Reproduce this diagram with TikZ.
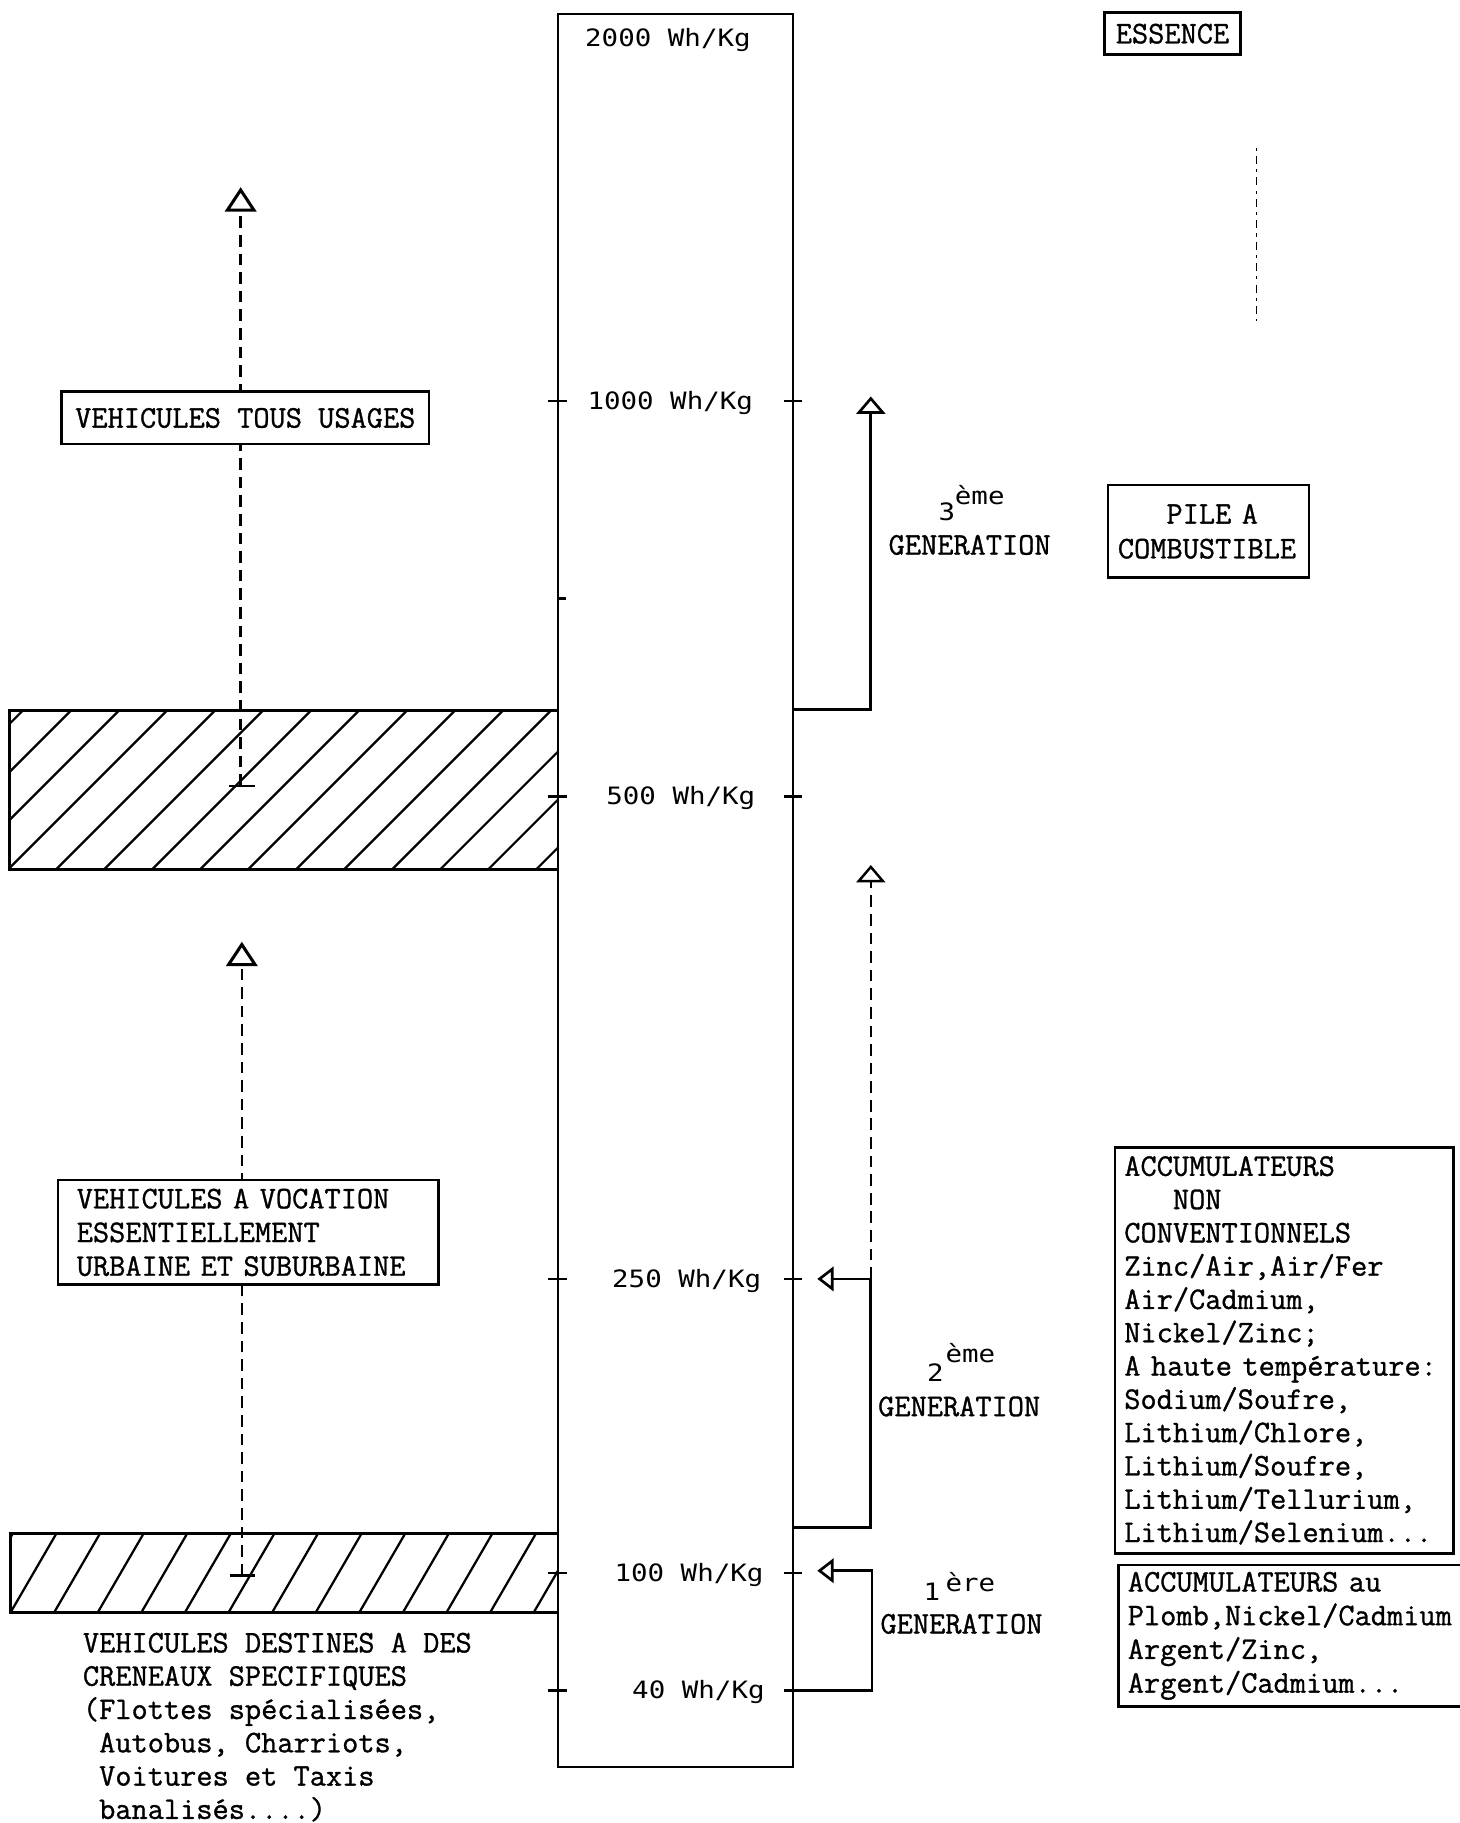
\documentclass[tikz,border=0pt]{standalone}
\usepackage{fontspec}
\newfontfamily\tw[FakeBold=1]{Latin Modern Mono}
\newfontfamily\gw[FakeStretch=1.15]{DejaVu Sans Mono}
\usetikzlibrary{arrows.meta}
\begin{document}
\begin{tikzpicture}[x=0.02cm,y=-0.02cm,
  frm/.style={line width=1.3pt},
  hatchl/.style={line width=1.1pt},
  dsh/.style={line width=1.2pt, dash pattern=on 0.2cm off 0.12cm},
  box/.style={draw, line width=1.3pt, fill=white, inner sep=0pt},
  tt/.style={font=\tw\fontsize{15.4}{16.3}\selectfont, inner sep=0pt},
  gt/.style={font=\gw\fontsize{11.7}{14}\selectfont, inner sep=0pt},
  upbig/.style={-{Triangle[open, length=0.42cm, width=0.54cm, line width=1.5pt]}},
  upsmall/.style={-{Triangle[open, length=0.3cm, width=0.5cm]}},
  leftarr/.style={-{Triangle[open, length=0.28cm, width=0.42cm]}},
  tickm/.style={line width=1.3pt}]
\path[use as bounding box, fill=white] (0,0) rectangle (1255,1568);

% hatched bands
\begin{scope}
  \clip (8,611) rectangle (480,748);
  \foreach \i in {-5,...,12} \draw[hatchl] ({48+41.3*\i},748) -- ++(160,-160);
\end{scope}
\draw[frm] (480,611) -- (8,611) -- (8,748) -- (480,748);
\begin{scope}
  \clip (9,1319) rectangle (480,1387);
  \foreach \i in {-3,...,13} \draw[hatchl] ({9+37.5*\i},1387) -- ++(59.25,-102);
\end{scope}
\draw[frm] (480,1319) -- (9,1319) -- (9,1387) -- (480,1387);

% scale
\node[draw, frm, minimum width=4.04cm, minimum height=30.16cm, inner sep=0pt] (scale) at (581,766) {};
\foreach \yy in {345,685,1100,1353,1454} {
  \draw[tickm] (471,\yy) -- (488,\yy);
  \draw[tickm] (674,\yy) -- (690,\yy);
}
\draw[tickm] (480,515) -- (487,515);

\node[gt, anchor=base east] (l2000) at (646,40) {2000 Wh/Kg};
\node[gt, anchor=base east] (l1000) at (648,352) {1000 Wh/Kg};
\node[gt, anchor=base east] (l500) at (650,692) {500 Wh/Kg};
\node[gt, anchor=base east] (l250) at (655,1107) {250 Wh/Kg};
\node[gt, anchor=base east] (l100) at (657,1360) {100 Wh/Kg};
\node[gt, anchor=base east] (l40) at (658,1461) {40 Wh/Kg};

% left dashed arrows
\coordinate (a1b) at (207,676);
\coordinate (a1t) at (207,161);
\draw[dsh, upbig] (a1b) -- (a1t);
\draw[frm] (197,676) -- (219,676);
\coordinate (a2b) at (208,1355);
\coordinate (a2t) at (208,810);
\draw[dsh, upbig] (a2b) -- (a2t);
\draw[frm] (198,1355) -- (219,1355);

\node[box, tt, minimum width=6.32cm, minimum height=0.9cm] (tous) at (211,359.5) {VEHICULES TOUS USAGES};
\node[box, tt, font=\tw\fontsize{15.4}{16.5}\selectfont, minimum width=6.54cm, minimum height=1.8cm, text width=5.9cm, align=left] (voc) at (213.5,1060)
  {VEHICULES~A~VOCATION\\ESSENTIELLEMENT\\URBAINE~ET~SUBURBAINE};
\node[tt, anchor=north west, align=left] (spec) at (71,1404)
  {VEHICULES DESTINES A DES\\CRENEAUX SPECIFIQUES\\(Flottes spécialisées,\\\phantom{(}Autobus, Charriots,\\\phantom{(}Voitures et Taxis\\\phantom{(}banalisés....)};

% generations
\coordinate (g3s) at (682,610);
\coordinate (g3c) at (749,610);
\coordinate (g3t) at (749,341);
\draw[frm, upsmall] (g3s) -- (g3c) -- (g3t);

\coordinate (g2s) at (682,1314);
\coordinate (g2c1) at (749,1314);
\coordinate (g2c2) at (749,1100);
\coordinate (g2t) at (703,1100);
\coordinate (g2u) at (749,744);
\draw[frm, leftarr] (g2s) -- (g2c1) -- (g2c2) -- (g2t);
\draw[dsh, upsmall] (g2c2) -- (g2u);

\coordinate (g1s) at (682,1454);
\coordinate (g1c1) at (750,1454);
\coordinate (g1c2) at (750,1351);
\coordinate (g1t) at (703,1351);
\draw[frm, leftarr] (g1s) -- (g1c1) -- (g1c2) -- (g1t);

\node[gt, anchor=base west] (n3) at (807,448) {3};
\node[gt, anchor=base west] (e3) at (821,434) {ème};
\node[tt, anchor=base west] (gen3) at (764,477) {GENERATION};
\node[gt, anchor=base west] (n2) at (797,1188) {2};
\node[gt, anchor=base west] (e2) at (813,1172) {ème};
\node[tt, anchor=base west] (gen2) at (755,1218) {GENERATION};
\node[gt, anchor=base west] (e1) at (813,1369) {ère};
\node[gt, anchor=base west] (n1) at (794,1377) {1};
\node[tt, anchor=base west] (gen1) at (757,1405) {GENERATION};

% right boxes
\node[box, tt, minimum width=2.34cm, minimum height=0.72cm] (ess) at (1008.5,29) {ESSENCE};
\coordinate (ed1) at (1081,127);
\coordinate (ed2) at (1081,276);
\draw[line width=0.6pt, dash pattern=on 1.5pt off 2.5pt on 4pt off 2.5pt] (ed1) -- (ed2);

\node[box, tt, font=\tw\fontsize{15.4}{17}\selectfont, minimum width=3.46cm, minimum height=1.6cm, text width=3.12cm, align=left] (pile) at (1039.5,457)
  {\phantom{XXX}PILE~A\\COMBUSTIBLE};
\node[box, tt, minimum width=5.82cm, minimum height=6.98cm, text width=5.5cm, align=left] (nonconv) at (1104.5,1161.5)
  {ACCUMULATEURS\\\phantom{NNN}NON\\CONVENTIONNELS\\Zinc/Air,Air/Fer\\Air/Cadmium,\\Nickel/Zinc;\\A~haute~température:\\Sodium/Soufre,\\Lithium/Chlore,\\Lithium/Soufre,\\Lithium/Tellurium,\\Lithium/Selenium...};
\node[box, tt, font=\tw\fontsize{15.4}{16.5}\selectfont, minimum width=6cm, minimum height=2.44cm, text width=5.68cm, align=left] (conv) at (1112,1407)
  {ACCUMULATEURS~au\\Plomb,Nickel/Cadmium\\Argent/Zinc,\\Argent/Cadmium...};
\end{tikzpicture}
\end{document}
